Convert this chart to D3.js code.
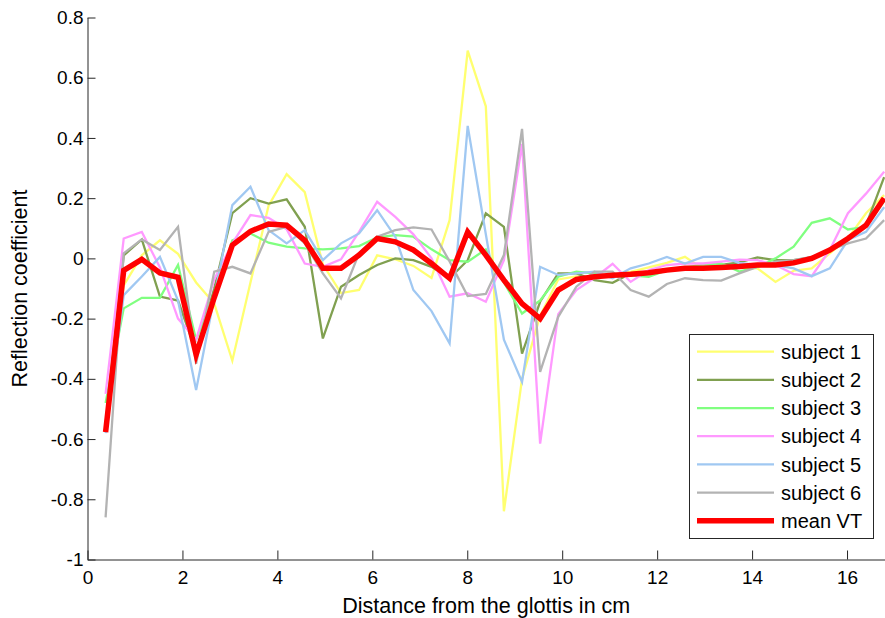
<!DOCTYPE html>
<html>
<head>
<meta charset="utf-8">
<script src="https://cdn.jsdelivr.net/npm/d3@7"></script>
<style>
  body { margin: 0; background: #fff; }
  text { font-family: "Liberation Sans", Arial, sans-serif; fill: #000; }
</style>
</head>
<body>
<script>
// distance from the glottis (cm) for each sample
var dist = [0.381, 0.763, 1.144, 1.526, 1.907, 2.288, 2.670, 3.051, 3.433, 3.814,
  4.195, 4.577, 4.958, 5.340, 5.721, 6.102, 6.484, 6.865, 7.247, 7.628,
  8.009, 8.391, 8.772, 9.154, 9.535, 9.916, 10.298, 10.679, 11.061, 11.442,
  11.823, 12.205, 12.586, 12.968, 13.349, 13.730, 14.112, 14.493, 14.875, 15.256,
  15.637, 16.019, 16.400, 16.782];

var subj1 = [-0.55, -0.09, 0.01, 0.06, 0.015, -0.08, -0.15, -0.34, -0.08, 0.175,
  0.28, 0.22, -0.02, -0.115, -0.105, 0.01, -0.003, -0.025, -0.065, 0.127,
  0.69, 0.505, -0.84, -0.4, -0.19, -0.07, -0.06, -0.065, -0.055, -0.045,
  -0.03, -0.015, 0.005, -0.035, -0.03, -0.03, -0.033, -0.078, -0.041, -0.033,
  0.017, 0.066, 0.15, 0.21];
var subj2 = [-0.55, 0.01, 0.063, -0.127, -0.14, -0.31, -0.1, 0.15, 0.2, 0.182,
  0.196, 0.105, -0.266, -0.094, -0.055, -0.022, 0.0, -0.006, -0.028, -0.066,
  -0.006, 0.15, 0.105, -0.316, -0.144, -0.05, -0.05, -0.072, -0.081, -0.05,
  -0.05, -0.039, -0.033, -0.03, -0.022, -0.013, 0.003, -0.006, -0.006, 0.003,
  0.028, 0.066, 0.11, 0.27];
var subj3 = [-0.48, -0.166, -0.131, -0.131, -0.022, -0.27, -0.12, 0.06, 0.083, 0.052,
  0.039, 0.033, 0.03, 0.033, 0.041, 0.07, 0.077, 0.072, 0.03, -0.006,
  -0.011, 0.03, -0.08, -0.183, -0.14, -0.061, -0.044, -0.05, -0.06, -0.056,
  -0.061, -0.039, -0.03, -0.022, -0.017, -0.044, -0.028, 0.0, 0.039, 0.118,
  0.133, 0.096, 0.105, 0.19];
var subj4 = [-0.45, 0.066, 0.088, -0.03, -0.2, -0.27, -0.07, 0.05, 0.144, 0.135,
  0.097, -0.017, -0.028, -0.003, 0.088, 0.188, 0.138, 0.08, 0.0, -0.127,
  -0.116, -0.144, -0.006, 0.38, -0.615, -0.185, -0.105, -0.065, -0.018, -0.078,
  -0.039, -0.022, -0.017, -0.017, -0.011, -0.004, -0.006, -0.022, -0.052, -0.059,
  0.028, 0.15, 0.215, 0.288];
var subj5 = [-0.58, -0.122, -0.06, 0.005, -0.14, -0.437, -0.13, 0.177, 0.238, 0.094,
  0.05, 0.094, -0.006, 0.05, 0.083, 0.16, 0.072, -0.105, -0.175, -0.282,
  0.44, 0.08, -0.27, -0.41, -0.028, -0.055, -0.05, -0.044, -0.066, -0.033,
  -0.017, 0.005, -0.017, 0.005, 0.005, -0.015, -0.022, -0.022, -0.033, -0.059,
  -0.033, 0.061, 0.088, 0.17];
var subj6 = [-0.86, 0.017, 0.063, 0.028, 0.105, -0.35, -0.044, -0.028, -0.05, 0.088,
  0.105, 0.05, -0.05, -0.133, 0.017, 0.072, 0.094, 0.103, 0.096, -0.01,
  -0.125, -0.118, 0.011, 0.43, -0.377, -0.194, -0.094, -0.044, -0.044, -0.105,
  -0.127, -0.085, -0.066, -0.072, -0.074, -0.05, -0.028, -0.011, -0.006, 0.005,
  0.028, 0.05, 0.066, 0.127];
var meanVT = [-0.577, -0.04, -0.003, -0.048, -0.063, -0.32, -0.13, 0.044, 0.09, 0.114,
  0.11, 0.06, -0.033, -0.033, 0.011, 0.066, 0.055, 0.028, -0.017, -0.066,
  0.088, 0.011, -0.072, -0.15, -0.2, -0.105, -0.07, -0.061, -0.056, -0.053,
  -0.048, -0.039, -0.033, -0.033, -0.03, -0.027, -0.022, -0.022, -0.015, 0.0,
  0.028, 0.066, 0.11, 0.2];

var names = ["subject 1", "subject 2", "subject 3", "subject 4", "subject 5", "subject 6", "mean VT"];
var colors = ["#ffff70", "#80a050", "#80ff80", "#ff99ff", "#a0c8f2", "#b3b3b3", "#ff0000"];
var xTicks = [0, 2, 4, 6, 8, 10, 12, 14, 16];
var yTicks = [-1, -0.8, -0.6, -0.4, -0.2, 0, 0.2, 0.4, 0.6, 0.8];

var allSeries = [subj1, subj2, subj3, subj4, subj5, subj6, meanVT];

function drawChart() {
  var W = 885, H = 618;
  var mLeft = 87.5, mRight = 885, mTop = 17.5, mBottom = 559.5;

  var svg = d3.select("body").append("svg")
    .attr("width", W)
    .attr("height", H);

  var x = d3.scaleLinear().domain([0, 16.8]).range([mLeft, mRight]);
  var y = d3.scaleLinear().domain([-1, 0.8]).range([mBottom, mTop]);

  // axes (MATLAB style: ticks pointing inside, no box)
  var xAxis = svg.append("g")
    .attr("transform", "translate(0," + mBottom + ")")
    .call(d3.axisBottom(x).tickValues(xTicks).tickSizeInner(-9).tickSizeOuter(0).tickPadding(11)
      .tickFormat(d3.format("d")));
  var yAxis = svg.append("g")
    .attr("transform", "translate(" + mLeft + ",0)")
    .call(d3.axisLeft(y).tickValues(yTicks).tickSizeInner(-8).tickSizeOuter(0).tickPadding(4)
      .tickFormat(function (d) { return d === 0 ? "0" : String(+d.toFixed(1)); }));

  [xAxis, yAxis].forEach(function (g) {
    g.selectAll("path, line").attr("stroke", "#262626").attr("stroke-width", 1);
    g.selectAll("text").style("font-size", "19px").attr("fill", "#1a1a1a");
  });

  var line = d3.line()
    .x(function (d, i) { return x(dist[i]); })
    .y(function (d) { return y(d); });

  allSeries.forEach(function (s, k) {
    svg.append("path")
      .datum(s)
      .attr("fill", "none")
      .attr("stroke", colors[k])
      .attr("stroke-width", k === 6 ? 5.5 : 2.3)
      .attr("d", line);
  });

  // axis labels
  svg.append("text")
    .attr("x", (mLeft + mRight) / 2)
    .attr("y", 613)
    .attr("text-anchor", "middle")
    .style("font-size", "21.5px")
    .text("Distance from the glottis in cm");

  svg.append("text")
    .attr("transform", "translate(27," + ((mTop + mBottom) / 2) + ") rotate(-90)")
    .attr("text-anchor", "middle")
    .style("font-size", "21.5px")
    .text("Reflection coefficient");

  // legend
  var lg = svg.append("g");
  lg.append("rect")
    .attr("x", 689.5).attr("y", 334.5)
    .attr("width", 184).attr("height", 204)
    .attr("fill", "#fff")
    .attr("stroke", "#262626");

  names.forEach(function (n, k) {
    var ry = 351.7 + k * 28.17;
    lg.append("line")
      .attr("x1", 697).attr("x2", 774)
      .attr("y1", ry).attr("y2", ry)
      .attr("stroke", colors[k])
      .attr("stroke-width", k === 6 ? 5.5 : 2.3);
    lg.append("text")
      .attr("x", 781).attr("y", ry)
      .attr("dy", "0.36em")
      .style("font-size", "20px")
      .text(n);
  });
}

drawChart();
</script>
</body>
</html>
